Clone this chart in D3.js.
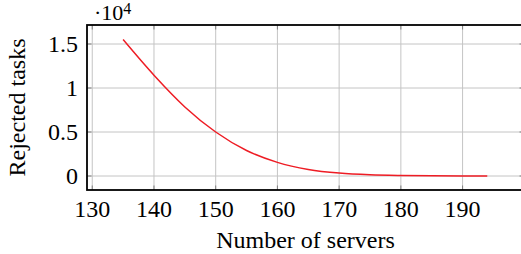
<!DOCTYPE html>
<html>
<head>
<meta charset="utf-8">
<script src="https://cdn.jsdelivr.net/npm/d3@7"></script>
<style>
  @font-face {
    font-family: 'ChartSerif';
    src: local('Liberation Serif'), local('LiberationSerif'), local('LiberationSerif-Regular'), local('Tinos'), local('Times New Roman');
  }
  svg text, svg tspan { font-family: 'Liberation Serif', 'ChartSerif', 'Tinos', 'Times New Roman', 'FreeSerif' !important; }
</style>
</head>
<body style="margin:0">
<div id="chart"></div>
<script>
// data
const servers = [135, 140, 145, 150, 155, 160, 165, 170, 175, 180, 185, 190, 194];
const rejected = [15500, 11450, 7850, 5000, 2900, 1550, 750, 330, 130, 50, 20, 8, 3];
const xTicks = [130, 140, 150, 160, 170, 180, 190];
const yTicks = [0, 5000, 10000, 15000];
const yTickLabels = ['0', '0.5', '1', '1.5'];

const width = 521;
const height = 254;
const plotLeft = 87, plotRight = 524, plotTop = 25, plotBottom = 190;

const svg = d3.select('#chart')
    .append('svg')
    .attr('width', width)
    .attr('height', height);

const x = d3.scaleLinear().domain([129.15, 199.95]).range([plotLeft, plotRight]);
const y = d3.scaleLinear().domain([-1590, 17160]).range([plotBottom, plotTop]);

// grid
svg.append('g').selectAll('line')
    .data(xTicks)
    .enter().append('line')
    .attr('x1', d => x(d)).attr('x2', d => x(d))
    .attr('y1', plotTop).attr('y2', plotBottom)
    .attr('stroke', '#c4c4c4').attr('stroke-width', 1);

svg.append('g').selectAll('line')
    .data(yTicks)
    .enter().append('line')
    .attr('x1', plotLeft).attr('x2', plotRight)
    .attr('y1', d => y(d)).attr('y2', d => y(d))
    .attr('stroke', '#c4c4c4').attr('stroke-width', 1);

// inner tick marks on all four sides
const tickLen = 4.5;
const ticks = svg.append('g').attr('stroke', '#808080').attr('stroke-width', 1);
xTicks.forEach(d => {
    ticks.append('line').attr('x1', x(d)).attr('x2', x(d)).attr('y1', plotBottom).attr('y2', plotBottom - tickLen);
    ticks.append('line').attr('x1', x(d)).attr('x2', x(d)).attr('y1', plotTop).attr('y2', plotTop + tickLen);
});
yTicks.forEach(d => {
    ticks.append('line').attr('x1', plotLeft).attr('x2', plotLeft + tickLen).attr('y1', y(d)).attr('y2', y(d));
    ticks.append('line').attr('x1', plotRight).attr('x2', plotRight - tickLen).attr('y1', y(d)).attr('y2', y(d));
});

// curve
const line = d3.line()
    .x((d, i) => x(servers[i]))
    .y(d => y(d))
    .curve(d3.curveMonotoneX);

svg.append('path')
    .datum(rejected)
    .attr('d', line)
    .attr('fill', 'none')
    .attr('stroke', '#ee1c24')
    .attr('stroke-width', 1.5);

// frame
svg.append('rect')
    .attr('x', plotLeft).attr('y', plotTop)
    .attr('width', plotRight - plotLeft).attr('height', plotBottom - plotTop)
    .attr('fill', 'none')
    .attr('stroke', '#000')
    .attr('stroke-width', 1.8);

// tick labels
svg.selectAll('.xlabel')
    .data(xTicks)
    .enter().append('text')
    .attr('class', 'xlabel')
    .attr('x', d => x(d))
    .attr('y', 217)
    .attr('text-anchor', 'middle')
    .attr('font-size', 24)
    .text(d => d);

svg.selectAll('.ylabel')
    .data(yTicks)
    .enter().append('text')
    .attr('class', 'ylabel')
    .attr('x', 78)
    .attr('y', d => y(d) + 8)
    .attr('text-anchor', 'end')
    .attr('font-size', 24)
    .text((d, i) => yTickLabels[i]);

// scale label
const exp = svg.append('text')
    .attr('x', 94)
    .attr('y', 20)
    .attr('font-size', 22);
exp.append('tspan').text('\u00b710');
exp.append('tspan').attr('font-size', 16).attr('dy', -6).text('4');

// axis labels
svg.append('text')
    .attr('x', (plotLeft + plotRight) / 2)
    .attr('y', 248)
    .attr('text-anchor', 'middle')
    .attr('font-size', 24)
    .text('Number of servers');

svg.append('text')
    .attr('transform', `translate(25, ${(plotTop + plotBottom) / 2}) rotate(-90)`)
    .attr('text-anchor', 'middle')
    .attr('font-size', 24)
    .text('Rejected tasks');
</script>
</body>
</html>
